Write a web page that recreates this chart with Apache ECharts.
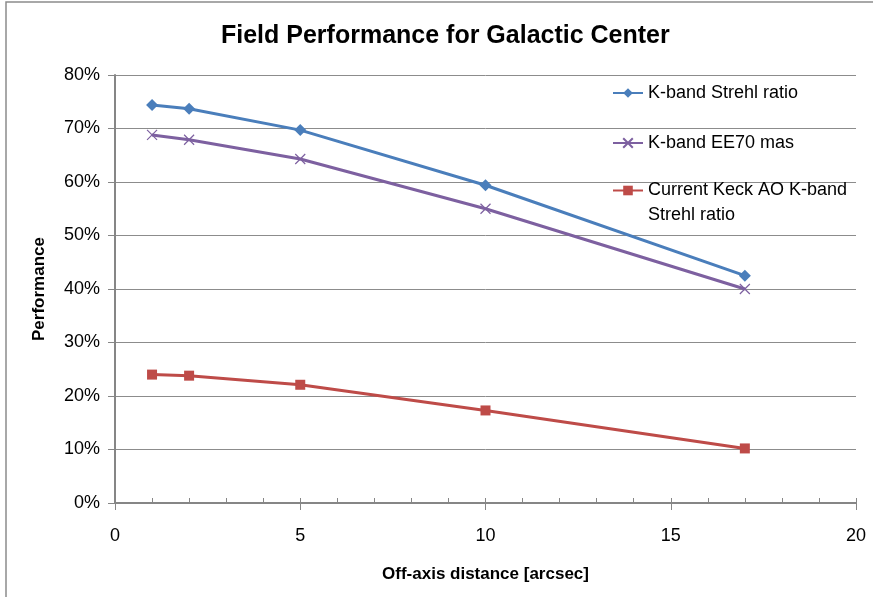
<!DOCTYPE html>
<html>
<head>
<meta charset="utf-8">
<script src="https://cdn.jsdelivr.net/npm/echarts@6/dist/echarts.min.js"></script>
<style>
html,body{margin:0;padding:0;background:#fff;}
#c{width:873px;height:597px;}
</style>
</head>
<body>
<div id="c"></div>
<script>
var distances = [1, 2, 5, 10, 17];
var strehl = [0.744, 0.737, 0.697, 0.594, 0.425];
var ee70 = [0.688, 0.679, 0.643, 0.550, 0.400];
var currentKeck = [0.240, 0.238, 0.221, 0.173, 0.102];
var seriesNames = ['K-band Strehl ratio', 'K-band EE70 mas', 'Current Keck AO K-band Strehl ratio'];
var yTicks = [0, 0.1, 0.2, 0.3, 0.4, 0.5, 0.6, 0.7, 0.8];
var xTicks = [0, 5, 10, 15, 20];

function pairs(xs, ys) { return xs.map(function (x, i) { return [x, ys[i]]; }); }

var FONT = '"Liberation Sans", Arial, sans-serif';
var chart = echarts.init(document.getElementById('c'), null, {renderer: 'canvas'});

function legendAt(name, top, formatter) {
  var l = {
    data: [name], left: 612, top: top, orient: 'vertical', padding: 0,
    itemWidth: 30, itemHeight: 12,
    textStyle: {fontFamily: FONT, fontSize: 18, color: '#000', lineHeight: 24,
      rich: {a: {fontFamily: FONT, fontSize: 18, color: '#000', lineHeight: 25},
             b: {fontSize: 18, lineHeight: 25}}},
    selectedMode: false
  };
  if (formatter) l.formatter = formatter;
  return l;
}

chart.setOption({
  animation: false,
  backgroundColor: '#fff',
  title: {
    text: 'Field Performance for Galactic Center',
    left: 216, top: 19,
    textStyle: {fontFamily: FONT, fontSize: 25, fontWeight: 'bold', color: '#000'}
  },
  graphic: [{
    type: 'rect', shape: {x: 6, y: 2, width: 900, height: 700},
    style: {fill: null, stroke: '#8c8c8c', lineWidth: 1.5}, silent: true
  }],
  legend: [
    legendAt(seriesNames[0], 81),
    legendAt(seriesNames[1], 131),
    legendAt(seriesNames[2], 153, function () {
      return '{b| }\n{a|Current Keck AO K-band}\n{a|Strehl ratio}';
    })
  ],
  grid: {left: 115, right: 17, top: 75, bottom: 94},
  xAxis: [{
    type: 'value', min: 0, max: 20, interval: 5,
    name: 'Off-axis distance [arcsec]', nameLocation: 'middle', nameGap: 63,
    nameTextStyle: {fontFamily: FONT, fontSize: 17, fontWeight: 'bold', color: '#000'},
    axisLine: {lineStyle: {color: '#868686', width: 2}},
    axisTick: {show: true, length: 7, lineStyle: {color: '#868686', width: 1}},
    axisLabel: {fontFamily: FONT, fontSize: 18, color: '#000', margin: 24,
      formatter: function (v) { return xTicks.indexOf(v) >= 0 ? String(v) : ''; }},
    splitLine: {show: false}
  }, {
    type: 'value', min: 0, max: 20, interval: 1, position: 'bottom',
    axisLine: {show: false},
    axisTick: {show: true, inside: true, length: 5, lineStyle: {color: '#868686', width: 1}},
    axisLabel: {show: false},
    splitLine: {show: false}
  }],
  yAxis: {
    type: 'value', min: 0, max: 0.8, interval: 0.1,
    name: 'Performance', nameLocation: 'middle', nameGap: 67,
    nameTextStyle: {fontFamily: FONT, fontSize: 17, fontWeight: 'bold', color: '#000'},
    axisLine: {show: true, lineStyle: {color: '#868686', width: 2}},
    axisTick: {show: true, length: 7, lineStyle: {color: '#868686', width: 1}},
    axisLabel: {fontFamily: FONT, fontSize: 18, color: '#000', margin: 15,
      formatter: function (v) { return Math.round(v * 100) + '%'; }},
    splitLine: {lineStyle: {color: '#8c8c8c', width: 1}}
  },
  series: [{
    name: seriesNames[0], type: 'line', data: pairs(distances, strehl),
    symbol: 'diamond', symbolSize: 12,
    lineStyle: {color: '#4a7ebb', width: 3}, itemStyle: {color: '#4a7ebb'}
  }, {
    name: seriesNames[1], type: 'line', data: pairs(distances, ee70),
    symbol: 'path://M0,0L10,10M10,0L0,10', symbolSize: 10,
    lineStyle: {color: '#7d60a0', width: 3},
    itemStyle: {color: '#7d60a0', borderColor: '#7d60a0', borderWidth: 1.2}
  }, {
    name: seriesNames[2], type: 'line', data: pairs(distances, currentKeck),
    symbol: 'rect', symbolSize: 10,
    lineStyle: {color: '#be4b48', width: 3}, itemStyle: {color: '#be4b48'}
  }]
});
</script>
</body>
</html>
